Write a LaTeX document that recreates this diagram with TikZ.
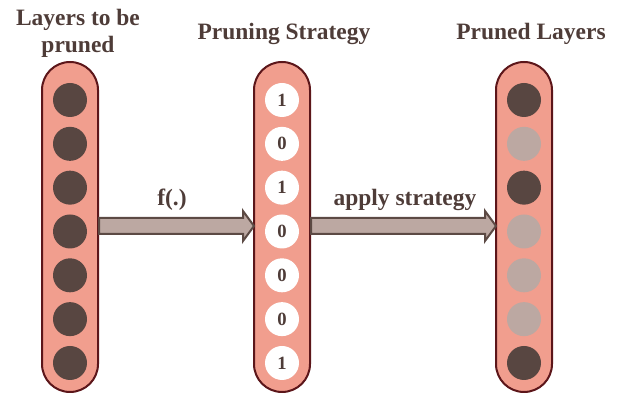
\documentclass[tikz,border=0pt]{standalone}
\usepackage{fontspec}
\setmainfont{Liberation Serif}
\usetikzlibrary{calc}

\definecolor{layerfill}{RGB}{241,158,142}
\definecolor{layerline}{RGB}{92,22,26}
\definecolor{unitdark}{RGB}{88,70,65}
\definecolor{unitlight}{RGB}{188,168,162}
\definecolor{arrowline}{RGB}{92,74,68}
\definecolor{textbrown}{RGB}{78,60,56}

\tikzset{
  layer/.style={draw=layerline, line width=1.5pt, fill=layerfill,
    rounded corners=21pt, minimum width=42pt, minimum height=247.5pt},
  unit/.style={circle, minimum size=25.5pt, inner sep=0pt},
  keep/.style={unit, fill=unitdark},
  drop/.style={unit, fill=unitlight},
  bit/.style={unit, fill=white, text=textbrown, font=\fontsize{14}{14}\selectfont\bfseries},
  title/.style={text=textbrown, align=center, inner sep=0pt,
    font=\fontsize{17.6}{20.5}\selectfont\bfseries},
  fat/.style={draw=arrowline, fill=unitlight, line width=1.5pt, line join=miter}
}

\begin{document}
\begin{tikzpicture}[x=0.75pt, y=-0.75pt]
  \useasboundingbox (0,0) rectangle (619,395);

  \node[layer] (L) at (70,227) {};
  \node[layer] (S) at (282,227) {};
  \node[layer] (P) at (524,227) {};

  \foreach \i/\b/\p in {1/1/keep, 2/0/drop, 3/1/keep, 4/0/drop, 5/0/drop, 6/0/drop, 7/1/keep} {
    \node[keep] (l\i) at (70, {100+43.83*(\i-1)}) {};
    \node[bit] (s\i) at (282, {100+43.83*(\i-1)}) {\b};
    \node[\p] (p\i) at (524, {100+43.83*(\i-1)}) {};
  }

  \draw[fat] ($(L.east)+(0,-9)$) -- ($(S.west)+(-10,-9)$) -- ($(S.west)+(-10,-16)$)
    -- ($(S.west)+(1,-1)$) -- ($(S.west)+(-10,14)$) -- ($(S.west)+(-10,7)$)
    -- ($(L.east)+(0,7)$) -- cycle;
  \draw[fat] ($(S.east)+(0,-9)$) -- ($(P.west)+(-10,-9)$) -- ($(P.west)+(-10,-16)$)
    -- ($(P.west)+(1,-1)$) -- ($(P.west)+(-10,14)$) -- ($(P.west)+(-10,7)$)
    -- ($(S.east)+(0,7)$) -- cycle;

  \node[title, anchor=base] (tl) at (78,53) {Layers to be\\pruned};
  \node[title, anchor=base] (ts) at (284,40) {Pruning Strategy};
  \node[title, anchor=base] (tp) at (531,40) {Pruned Layers};
  \node[title, anchor=base] (fl) at (172,206) {f(.)};
  \node[title, anchor=base] (al) at (405,206) {apply strategy};
\end{tikzpicture}
\end{document}
